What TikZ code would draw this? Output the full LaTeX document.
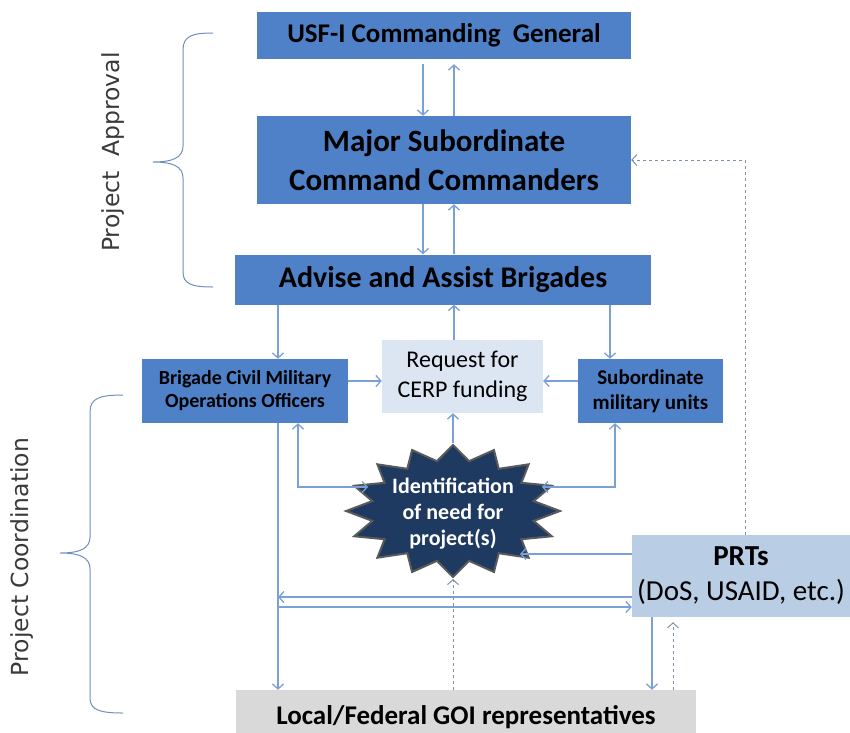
\documentclass[tikz,border=0pt]{standalone}
\usepackage{fontspec}
\setmainfont{Carlito}
\newfontfamily\labelfont{DejaVu Sans}
\usetikzlibrary{arrows.meta,shapes.geometric}

\definecolor{boxblue}{HTML}{4F81C9}
\definecolor{reqblue}{HTML}{DCE6F2}
\definecolor{prtblue}{HTML}{B9CDE5}
\definecolor{localgray}{HTML}{D9D9D9}
\definecolor{starnavy}{HTML}{1F3A60}
\definecolor{stargray}{HTML}{5A5A5A}
\definecolor{linkblue}{HTML}{7BA0D6}
\definecolor{dashgray}{HTML}{8090A8}
\definecolor{bracecol}{HTML}{6F8FBF}
\definecolor{labelgray}{HTML}{3A3A3A}

\begin{document}
\begin{tikzpicture}[x=1pt,y=-1pt,
  box/.style={fill=boxblue, inner sep=0pt, align=center, font=\bfseries, text=black},
  lightbox/.style={inner sep=0pt, align=center, text=black},
  link/.style={draw=linkblue, line width=1.3pt, -{Straight Barb[length=5pt,width=11pt]}},
  linktwo/.style={draw=linkblue, line width=1.3pt, {Straight Barb[length=5pt,width=11pt]}-{Straight Barb[length=5pt,width=11pt]}},
  dlink/.style={draw=dashgray, line width=1pt, dashed, -{Straight Barb[length=5pt,width=11pt]}},
  bracestyle/.style={draw=bracecol, line width=1pt},
  sidelabel/.style={rotate=90, text=labelgray, inner sep=0pt}
]
\useasboundingbox (0,0) rectangle (850,732);

% boxes
\node[box, minimum width=374pt, minimum height=47pt, font=\bfseries\fontsize{27}{31}\selectfont] (usf) at (444,35.5) {USF-I Commanding\ \ General};
\node[box, minimum width=374pt, minimum height=88pt, font=\bfseries\fontsize{31}{39}\selectfont] (msc) at (444,160) {Major Subordinate\\Command Commanders};
\node[box, minimum width=416pt, minimum height=50pt, font=\bfseries\fontsize{30}{34}\selectfont] (aab) at (443,279.5) {Advise and Assist Brigades};
\node[box, minimum width=206pt, minimum height=64pt, font=\bfseries\fontsize{20}{23}\selectfont] (bcmo) at (245,391) {Brigade Civil Military\\Operations Officers};
\node[lightbox, fill=reqblue, minimum width=161pt, minimum height=73pt, font=\fontsize{24}{30}\selectfont] (req) at (462.5,376.5) {Request for\\CERP funding};
\node[box, minimum width=145pt, minimum height=64pt, font=\bfseries\fontsize{21}{25}\selectfont] (sub) at (650.5,391) {Subordinate\\military units};
\node[lightbox, fill=prtblue, minimum width=218pt, minimum height=82pt, font=\fontsize{29}{35}\selectfont] (prt) at (741,576) {\textbf{PRTs}\\(DoS, USAID, etc.)};
\node[lightbox, fill=localgray, minimum width=460pt, minimum height=54pt, font=\bfseries\fontsize{27}{31}\selectfont] (local) at (466,717) {Local/Federal GOI representatives};

% star
\node[star, star points=16, star point ratio=1.3, minimum size=132pt, inner sep=0pt, xscale=1.62, fill=starnavy, draw=stargray, line width=2pt] (star) at (453,511) {};
\node[align=center, text=white, font=\bfseries\fontsize{22}{26}\selectfont, inner sep=0pt] (startxt) at (453,514) {Identification\\of need for\\project(s)};

% helper coordinates
\coordinate (xA) at (423,0);
\coordinate (xB) at (454,0);
\coordinate (xC) at (278,0);
\coordinate (xD) at (298,0);
\coordinate (xE) at (610,0);
\coordinate (xF) at (615,0);
\coordinate (xG) at (745,0);
\coordinate (xH) at (652,0);
\coordinate (xI) at (673,0);
\coordinate (yR) at (0,381);
\coordinate (yP) at (0,554);
\coordinate (yU) at (0,597);
\coordinate (yL) at (0,607);
\coordinate (starL) at (368,487);
\coordinate (starR) at (542,487);
\coordinate (starP) at (520,554);

% connectors
\draw[link, shorten <=5pt] (usf.south -| xA) -- (msc.north -| xA);
\draw[link, shorten >=5pt] (msc.north -| xB) -- (usf.south -| xB);
\draw[link] (msc.south -| xA) -- (aab.north -| xA);
\draw[link] (aab.north -| xB) -- (msc.south -| xB);
\draw[link] (aab.south -| xC) -- (bcmo.north -| xC);
\draw[link] (aab.south -| xE) -- (sub.north -| xE);
\draw[link] (req.north -| xB) -- (aab.south -| xB);
\draw[link] (bcmo.east |- yR) -- (req.west |- yR);
\draw[link] (sub.west |- yR) -- (req.east |- yR);
\draw[link] (star.north) -- (req.south -| star.north);
\draw[linktwo] (bcmo.south -| xD) |- (starL);
\draw[linktwo] (sub.south -| xF) |- (starR);
\draw[link] (prt.west |- yP) -- (starP);
\draw[link] (prt.west |- yU) -- (xC |- yU);
\draw[link] (xC |- yL) -- (prt.west |- yL);
\draw[link] (bcmo.south -| xC) -- (local.north -| xC);
\draw[dlink] (local.north -| star.south) -- (star.south);
\draw[link] (prt.south -| xH) -- (local.north -| xH);
\draw[dlink, shorten >=5pt] (local.north -| xI) -- (prt.south -| xI);
\draw[dlink] (prt.north -| xG) |- (msc.east);

% braces
\draw[bracestyle] (213,33) .. controls (192,33) and (183,36) .. (183,50) -- (183,146)
  .. controls (183,158) and (172,162) .. (153,162)
  .. controls (172,162) and (183,166) .. (183,178) -- (183,272)
  .. controls (183,284) and (192,287) .. (213,287);
\draw[bracestyle] (123,395) .. controls (100,395) and (90,398) .. (90,412) -- (90,537)
  .. controls (90,549) and (79,553) .. (60,553)
  .. controls (79,553) and (90,557) .. (90,569) -- (90,698)
  .. controls (90,710) and (100,713) .. (123,713);

\node[sidelabel, font=\labelfont\fontsize{23.5}{28}\selectfont] (lblA) at (113,152) {Project\ \ Approval};
\node[sidelabel, font=\labelfont\fontsize{23.5}{28}\selectfont] (lblB) at (22,557) {Project Coordination};
\end{tikzpicture}
\end{document}
